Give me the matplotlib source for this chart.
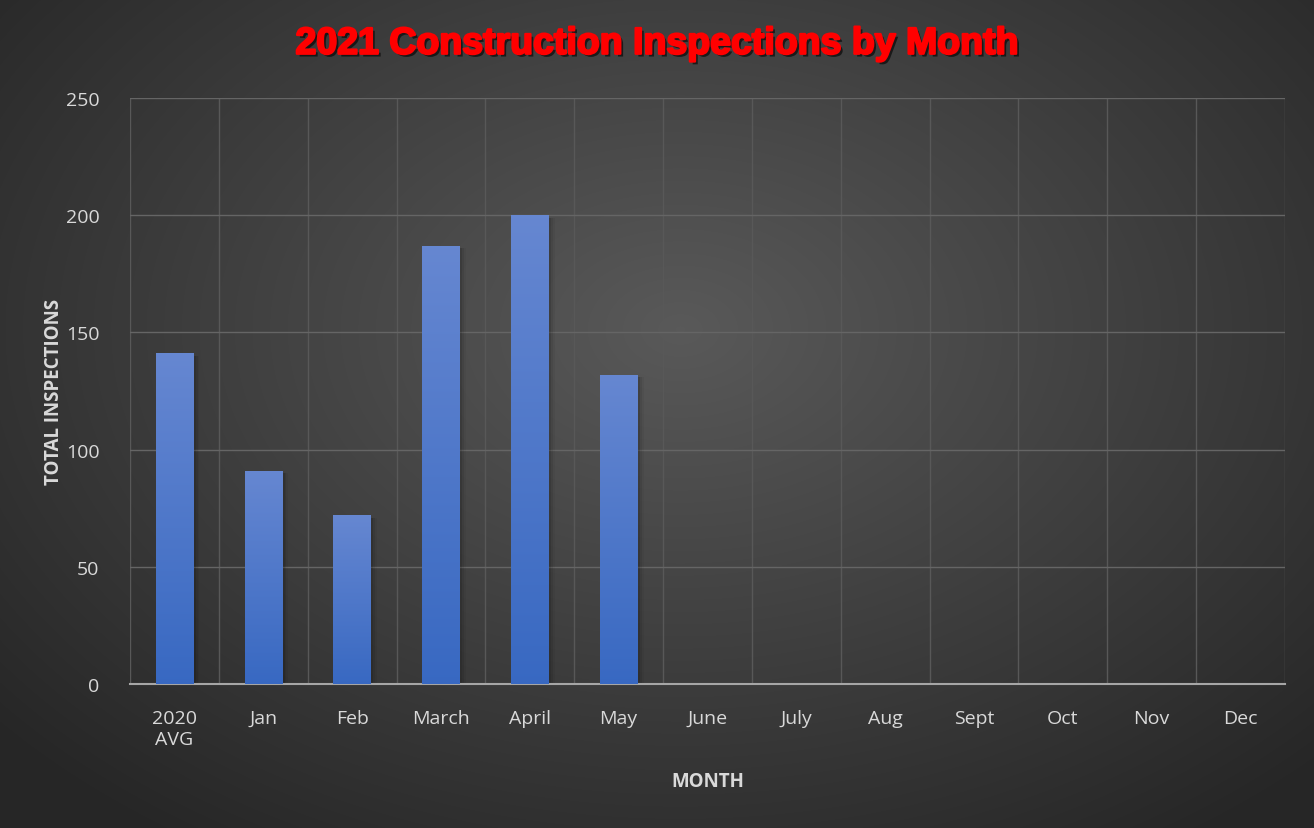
import numpy as np
import matplotlib.pyplot as plt
import matplotlib.patheffects as pe

# chart data
months = ['2020\nAVG', 'Jan', 'Feb', 'March', 'April', 'May', 'June',
          'July', 'Aug', 'Sept', 'Oct', 'Nov', 'Dec']
inspections = [141, 91, 72, 187, 200, 132, 0, 0, 0, 0, 0, 0, 0]
y_ticks = [0, 50, 100, 150, 200, 250]

plt.rcParams['font.family'] = ['Open Sans', 'DejaVu Sans']

fig = plt.figure(figsize=(13.14, 8.29), dpi=100)

# radial background gradient
bg = fig.add_axes([0, 0, 1, 1], zorder=-10)
h, w = 829, 1314
yy, xx = np.mgrid[0:h, 0:w]
r = np.sqrt(((xx - 680) / 900.0) ** 2 + ((yy - 330) / 620.0) ** 2)
shade = np.clip(0.35 - 0.2 * r, 0.15, 0.36)
bg.imshow(np.dstack([shade, shade, shade]), aspect='auto', extent=[0, 1, 0, 1])
bg.set_axis_off()

ax = fig.add_axes([130 / 1314, 1 - 685 / 829, (1285 - 130) / 1314, (685 - 99) / 829])
ax.set_facecolor('none')

x = np.arange(len(months))
bars = ax.bar(x, inspections, width=0.42, color='#4a74cc', zorder=3)

# vertical gradient + soft shadow on each bar
grad = np.linspace(0, 1, 256).reshape(-1, 1)
top_c = np.array([0.40, 0.53, 0.82])
bot_c = np.array([0.22, 0.41, 0.76])
grad_img = bot_c + (top_c - bot_c) * grad
grad_img = grad_img.reshape(256, 1, 3)
for b in bars:
    if b.get_height() <= 0:
        continue
    x0, wdt, hgt = b.get_x(), b.get_width(), b.get_height()
    for k, a in enumerate([0.10, 0.07, 0.04]):
        ax.bar(x0 + wdt / 2 + 0.03 + k * 0.02, hgt - 1, width=wdt, bottom=0,
               color='black', alpha=a, zorder=2, linewidth=0)
    im = ax.imshow(grad_img, extent=[x0, x0 + wdt, 0, hgt], origin='lower',
                   aspect='auto', zorder=4)
    im.set_clip_path(b)

ax.set_xlim(-0.5, len(months) - 0.5)
ax.set_ylim(0, 250)
ax.set_yticks(y_ticks)
ax.set_xticks(x)
ax.set_xticklabels(months)
ax.set_xticks(np.arange(-0.5, len(months), 1), minor=True)
ax.grid(False)
ax.grid(axis='y', which='major', color='#656565', linewidth=1, zorder=0)
ax.grid(axis='x', which='minor', color='#585858', linewidth=1, zorder=0)
ax.tick_params(axis='both', which='both', length=0, colors='#d9d9d9', labelsize=14)
ax.tick_params(axis='x', pad=18)
ax.tick_params(axis='y', pad=22)
for s in ['top', 'right', 'left']:
    ax.spines[s].set_visible(False)
ax.spines['bottom'].set_color('#a6a6a6')
ax.spines['bottom'].set_linewidth(1.5)

ax.set_xlabel('MONTH', color='#d9d9d9', fontsize=13.5, fontweight='bold', labelpad=17)
ax.set_ylabel('TOTAL INSPECTIONS', color='#d9d9d9', fontsize=13.5, fontweight='bold')
ax.yaxis.set_label_coords(-0.057, 0.5)

fig.text(0.5, 0.946, '2021 Construction Inspections by Month', ha='center', va='center',
         color='#ff0000', fontsize=27, fontweight='bold', family=['Liberation Sans', 'DejaVu Sans'],
         path_effects=[pe.withSimplePatchShadow(offset=(2, -2), shadow_rgbFace='black', alpha=0.6),
                       pe.Stroke(linewidth=1.6, foreground='#ff0000'),
                       pe.Normal()])

fig.savefig('out.png', dpi=100)
